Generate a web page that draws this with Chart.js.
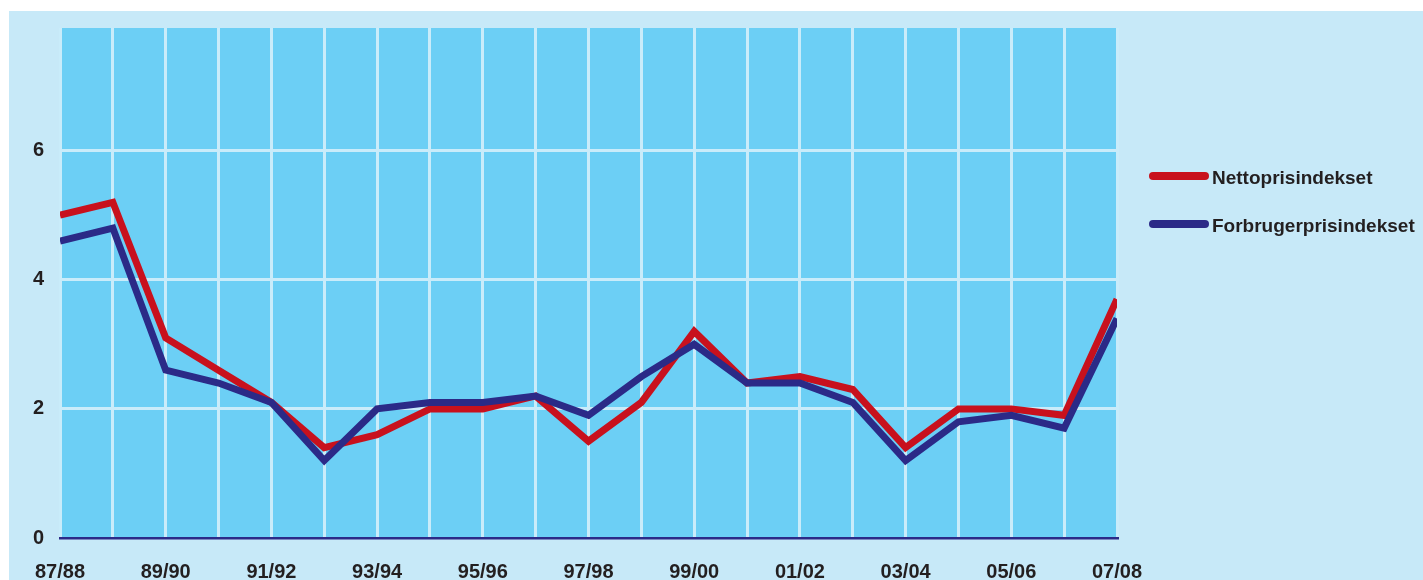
<!DOCTYPE html>
<html>
<head>
<meta charset="utf-8">
<script src="https://cdn.jsdelivr.net/npm/chart.js@4"></script>
<style>
  html, body { margin: 0; padding: 0; background: #ffffff; overflow: hidden; }
  #wrap { position: absolute; left: 9px; top: 11px; width: 1414px; height: 600px; background: #c7e9f8; }
</style>
</head>
<body>
<div id="wrap"><canvas id="Chart"></canvas></div>
<script>
const YEARS = ['87/88', '88/89', '89/90', '90/91', '91/92', '92/93', '93/94', '94/95', '95/96', '96/97',
    '97/98', '98/99', '99/00', '00/01', '01/02', '02/03', '03/04', '04/05', '05/06', '06/07', '07/08'];
const NETTO = [5.0, 5.2, 3.1, 2.6, 2.1, 1.4, 1.6, 2.0, 2.0, 2.2, 1.5, 2.1, 3.2, 2.4, 2.5, 2.3, 1.4, 2.0, 2.0, 1.9, 3.7];
const FORBRUGER = [4.6, 4.8, 2.6, 2.4, 2.1, 1.2, 2.0, 2.1, 2.1, 2.2, 1.9, 2.5, 3.0, 2.4, 2.4, 2.1, 1.2, 1.8, 1.9, 1.7, 3.4];
const Y_TICKS = [0, 2, 4, 6];

const FONT = "'Liberation Sans', sans-serif";
const TEXT = '#231f20';
const GRID = '#c9ecfa';

// plot background
const plotBg = {
    id: 'plotBg',
    beforeDraw(chart) {
        const { ctx, chartArea: a } = chart;
        ctx.save();
        ctx.fillStyle = '#6ccff5';
        ctx.fillRect(a.left, a.top, a.right - a.left, a.bottom - a.top);
        ctx.restore();
    }
};

// legend on the right, line samples with round ends
const sideLegend = {
    id: 'sideLegend',
    afterDraw(chart) {
        const { ctx, chartArea: a } = chart;
        ctx.save();
        chart.data.datasets.forEach((ds, i) => {
            const y = 165 + i * 48;
            ctx.strokeStyle = ds.borderColor;
            ctx.lineWidth = 8;
            ctx.lineCap = 'round';
            ctx.beginPath();
            ctx.moveTo(a.right + 36, y);
            ctx.lineTo(a.right + 88, y);
            ctx.stroke();
            ctx.fillStyle = TEXT;
            ctx.font = 'bold 19px ' + FONT;
            ctx.textBaseline = 'middle';
            ctx.fillText(ds.label, a.right + 95, y + 3);
        });
        ctx.restore();
    }
};

const data = {
    labels: YEARS,
    datasets: [
        {
            label: 'Nettoprisindekset',
            data: NETTO,
            borderColor: '#c8111d',
            order: 1,
        },
        {
            label: 'Forbrugerprisindekset',
            data: FORBRUGER,
            borderColor: '#2b2a87',
            order: 0,
        }
    ]
};

const config = {
    type: 'line',
    data,
    options: {
        responsive: true,
        maintainAspectRatio: false,
        animation: false,
        layout: { padding: { top: 17, right: 306, left: 0, bottom: 0 } },
        elements: {
            line: { borderWidth: 7, tension: 0, borderJoinStyle: 'miter', fill: false },
            point: { radius: 0, hoverRadius: 0 }
        },
        datasets: { line: { clip: 0 } },
        scales: {
            x: {
                offset: false,
                afterFit: (s) => { s.height = 73; },
                grid: { color: GRID, lineWidth: 3, drawTicks: false },
                border: { color: '#2b2a87', width: 2.5 },
                ticks: {
                    autoSkip: false,
                    maxRotation: 0,
                    padding: 22,
                    color: TEXT,
                    font: { family: FONT, size: 20, weight: 'bold' },
                    callback: (v, i) => i % 2 === 0 ? YEARS[i] : ''
                }
            },
            y: {
                min: 0,
                max: 7.9,
                afterFit: (s) => { s.width = 51; s.paddingTop = 0; s.paddingBottom = 0; },
                afterBuildTicks: (s) => { s.ticks = Y_TICKS.map(v => ({ value: v })); },
                grid: {
                    color: (c) => c.tick && c.tick.value === 0 ? 'rgba(0,0,0,0)' : GRID,
                    lineWidth: 3,
                    drawTicks: false
                },
                border: { display: false },
                ticks: {
                    padding: 16,
                    color: TEXT,
                    font: { family: FONT, size: 20, weight: 'bold' }
                }
            }
        },
        plugins: {
            legend: { display: false },
            tooltip: { enabled: false }
        }
    },
    plugins: [plotBg, sideLegend]
};

const myChart = new Chart(document.getElementById('Chart'), config);
</script>
</body>
</html>
